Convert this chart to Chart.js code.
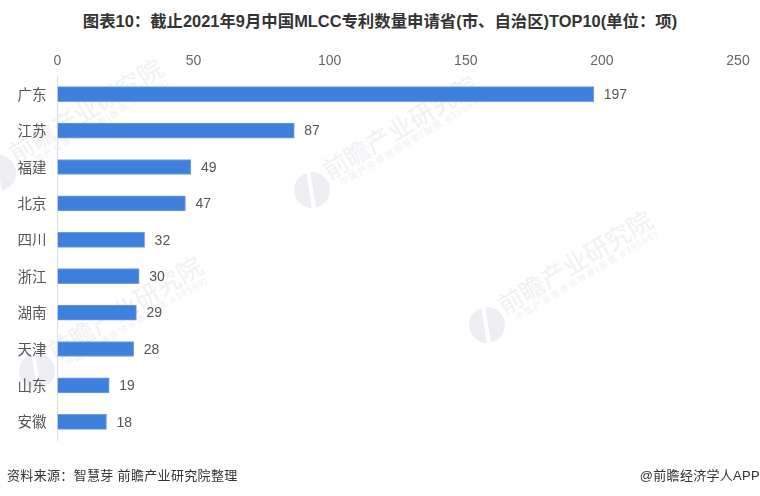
<!DOCTYPE html>
<html lang="zh">
<head>
<meta charset="utf-8">
<title>MLCC专利数量</title>
<script src="https://cdn.jsdelivr.net/npm/chart.js@4"></script>
<style>
  html, body { margin: 0; padding: 0; background: #fff; }
  body { width: 760px; height: 496px; position: relative; overflow: hidden; font-family: "Liberation Sans", "Noto Sans CJK SC", sans-serif; }
  #title { position: absolute; left: 0; top: 10px; width: 760px; text-align: center; font-size: 16.4px; line-height: 22px; font-weight: 700; color: #333; white-space: nowrap; }
  #source { position: absolute; left: 7px; top: 466px; font-size: 13px; line-height: 20px; color: #333; letter-spacing: 0.33px; }
  #credit { position: absolute; right: 0; top: 466px; font-size: 13px; line-height: 20px; color: #333; letter-spacing: 0.3px; }
  #chartBox { position: absolute; left: 0; top: 0; width: 760px; height: 496px; }
  /* watermark: left/top of .mark is the centre of the round logo */
  .mark { position: absolute; width: 0; height: 0; transform: rotate(-31deg); color: #eff1f4; white-space: nowrap; }
  .mark .logo { position: absolute; left: -18px; top: -18px; width: 36px; height: 36px; border-radius: 50%; background: #eceef2; overflow: hidden; }
  .mark .logo::after { content: ""; position: absolute; left: 15px; top: -2px; width: 4px; height: 40px; background: #fff; transform: rotate(22deg); }
  .mark .big { position: absolute; left: 20px; top: -24px; font-size: 25px; line-height: 32px; }
  .mark .small { position: absolute; left: 28px; top: 3px; font-size: 9px; line-height: 12px; letter-spacing: 1.4px; }
</style>
</head>
<body>
<div class="mark" style="left:-2px;top:173px"><div class="logo"></div><div class="big">前瞻产业研究院</div><div class="small">中国产业咨询领导者(股票 839599)</div></div>
<div class="mark" style="left:312px;top:190px"><div class="logo"></div><div class="big">前瞻产业研究院</div><div class="small">中国产业咨询领导者(股票 839599)</div></div>
<div class="mark" style="left:487px;top:325px"><div class="logo"></div><div class="big">前瞻产业研究院</div><div class="small">中国产业咨询领导者(股票 839599)</div></div>
<div class="mark" style="left:37px;top:371px"><div class="logo"></div><div class="big">前瞻产业研究院</div><div class="small">中国产业咨询领导者(股票 839599)</div></div>
<div id="title">图表10：截止2021年9月中国MLCC专利数量申请省(市、自治区)TOP10(单位：项)</div>
<div id="chartBox"><canvas id="chart" width="760" height="496"></canvas></div>
<div id="source">资料来源：智慧芽 前瞻产业研究院整理</div>
<div id="credit">@前瞻经济学人APP</div>
<script>
const provinces = ["广东", "江苏", "福建", "北京", "四川", "浙江", "湖南", "天津", "山东", "安徽"];
const patents = [197, 87, 49, 47, 32, 30, 29, 28, 19, 18];
const xTicks = [0, 50, 100, 150, 200, 250];

const fontFamily = '"Liberation Sans", "Noto Sans CJK SC", sans-serif';

// value next to each bar
const barLabels = {
  id: "barLabels",
  afterDatasetsDraw(chart) {
    const { ctx } = chart;
    ctx.save();
    ctx.font = "14px " + fontFamily;
    ctx.fillStyle = "#555";
    ctx.textBaseline = "middle";
    chart.getDatasetMeta(0).data.forEach((bar, i) => {
      ctx.fillText(patents[i], bar.x + 10, bar.y + 1);
    });
    ctx.restore();
  },
};

new Chart(document.getElementById("chart"), {
  type: "bar",
  data: {
    labels: provinces,
    datasets: [{
      data: patents,
      backgroundColor: "#3f80dc",
      borderColor: "#6f9fdf",
      borderWidth: 1,
      barThickness: 15,
    }],
  },
  options: {
    indexAxis: "y",
    responsive: false,
    animation: false,
    layout: { padding: { top: 0, right: 22, bottom: 56, left: 0 } },
    plugins: { legend: { display: false }, tooltip: { enabled: false } },
    scales: {
      x: {
        position: "top",
        min: 0,
        max: 250,
        afterBuildTicks: (axis) => { axis.ticks = xTicks.map((v) => ({ value: v })); },
        afterFit: (axis) => { axis.height = 76; },
        grid: { display: false, drawTicks: false },
        border: { display: false },
        ticks: { color: "#666", font: { family: fontFamily, size: 14 }, padding: 6, maxRotation: 0 },
      },
      y: {
        afterFit: (axis) => { axis.width = 57.5; },
        grid: { display: false, drawTicks: false },
        border: { display: true, color: "#d9dfe8", width: 1 },
        ticks: { color: "#555", font: { family: fontFamily, size: 14.5 }, padding: 11, labelOffset: 1.5 },
      },
    },
  },
  plugins: [barLabels],
});
</script>
</body>
</html>
